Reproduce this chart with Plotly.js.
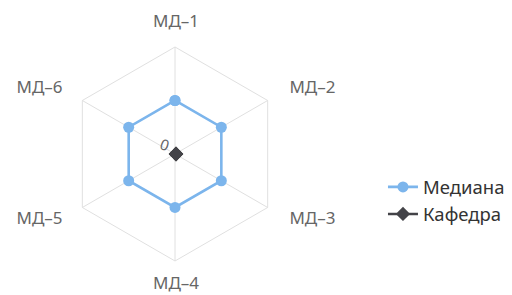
<!DOCTYPE html>
<html><head><meta charset="utf-8">
<script src="https://cdn.plot.ly/plotly-3.0.1.min.js"></script>
<style>html,body{margin:0;padding:0;background:#fff}#chart{width:512px;height:295px}</style>
</head><body><div id="chart"></div>
<script>
const categories = ["МД–1","МД–2","МД–3","МД–4","МД–5","МД–6"];
const medianValues = [1,1,1,1,1,1];
const kafedraValues = [0,0,0,0,0,0];
const seriesNames = ["Медиана","Кафедра"];
const radialTicks = [0,1,2];
const radialTickText = ["0","",""];

// styling / placement constants
const LABEL_R = 2.45;
const labelPos = ['middle center','middle right','middle right','middle center','middle left','middle left'];

const close = a => a.concat([a[0]]);
const data = [
  {type:'scatterpolar', subplot:'polar', name:seriesNames[0], r:close(medianValues), theta:close(categories),
   mode:'lines+markers', line:{color:'#7cb5ec', width:2.6}, marker:{color:'#7cb5ec', size:11, symbol:'circle'}},
  {type:'scatterpolar', subplot:'polar2', name:seriesNames[1], r:close(kafedraValues), theta:close(categories),
   mode:'lines+markers', line:{color:'#434348', width:2.6}, marker:{color:'#434348', size:11, symbol:'diamond'}},
  {type:'scatterpolar', subplot:'polar2', showlegend:false, hoverinfo:'skip',
   r:categories.map(()=>LABEL_R), theta:categories, mode:'text', text:categories,
   textposition:labelPos, textfont:{size:17, color:'#666'}}
];
const axHidden = {showgrid:false, showline:false, showticklabels:false, ticks:''};
const layout = {
  width:512, height:295, margin:{l:0,r:0,t:0,b:0},
  paper_bgcolor:'#fff', showlegend:true,
  font:{family:'Noto Sans, sans-serif', color:'#666'},
  polar:{
    domain:{x:[0.1328,0.5508], y:[0.1153,0.8407]},
    bgcolor:'rgba(0,0,0,0)',
    gridshape:'linear',
    radialaxis:{range:[0,2], tickvals:radialTicks, ticktext:radialTickText, showline:false, gridcolor:'#e0e0e0',
      angle:50, tickangle:50, side:'counterclockwise', ticks:'', tickfont:{size:15, color:'#666'}},
    angularaxis:{direction:'clockwise', rotation:90, gridcolor:'#e0e0e0', linecolor:'#e0e0e0', linewidth:1,
      ticks:'', showticklabels:false}
  },
  polar2:{
    domain:{x:[0.0723,0.6152], y:[0.0068,0.9492]},
    bgcolor:'rgba(0,0,0,0)',
    radialaxis:Object.assign({range:[-0.0001,2.6]}, axHidden),
    angularaxis:Object.assign({direction:'clockwise', rotation:90}, axHidden)
  },
  legend:{x:0.748, y:0.319, xanchor:'left', yanchor:'middle', font:{size:18.5, color:'#333'}, itemwidth:30, tracegroupgap:0}
};
Plotly.newPlot('chart', data, layout, {displayModeBar:false, staticPlot:true});
</script></body></html>
